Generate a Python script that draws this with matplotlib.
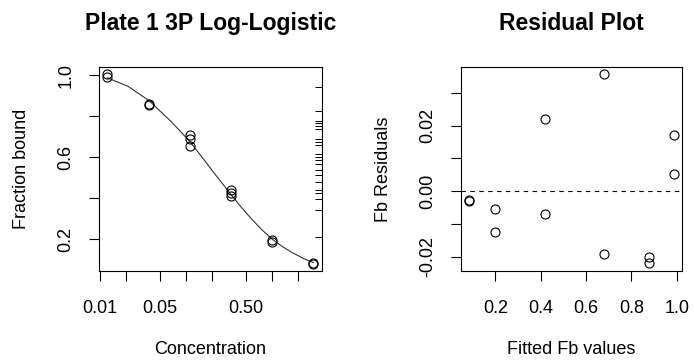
import numpy as np
import matplotlib.pyplot as plt

plt.rcParams['font.family'] = ['Liberation Sans', 'DejaVu Sans']

# Observed data (left panel)
conc = [0.0123, 0.0123, 0.037, 0.037, 0.111, 0.111, 0.111,
        0.333, 0.333, 0.333, 1.0, 1.0, 3.0, 3.0]
frac_bound = [1.004, 0.992, 0.858, 0.856, 0.711, 0.690, 0.657,
              0.442, 0.426, 0.410, 0.194, 0.188, 0.083, 0.081]

# Fitted curve
curve_x = [0.0123, 0.0214, 0.037, 0.0684, 0.111, 0.16, 0.2, 0.25,
           0.333, 0.44, 0.556, 0.75, 1.0, 1.3, 1.7, 2.3, 3.0]
curve_y = [0.988, 0.946, 0.878, 0.772, 0.677, 0.591, 0.537, 0.485,
           0.418, 0.355, 0.306, 0.248, 0.200, 0.165, 0.135, 0.106, 0.086]

# Rug on the right side of the left panel
rug_vals = [0.944, 0.828, 0.776, 0.765, 0.752, 0.736, 0.690, 0.674, 0.658,
            0.614, 0.601, 0.586, 0.565, 0.536, 0.512, 0.479, 0.440, 0.427,
            0.395, 0.343, 0.213]

x_ticks = [0.01, 0.02, 0.05, 0.1, 0.2, 0.5, 1, 2]
x_ticklabels = ['0.01', '', '0.05', '', '', '0.50', '', '']
y_ticks = [0.2, 0.4, 0.6, 0.8, 1.0]
y_ticklabels = ['0.2', '', '0.6', '', '1.0']

# Residual panel
fitted = [0.085, 0.085, 0.2, 0.2, 0.418, 0.418, 0.677, 0.677,
          0.878, 0.878, 0.988, 0.988]
resid = [-0.0026, -0.0031, -0.0056, -0.0124, 0.0221, -0.0070, 0.0357, -0.0192,
         -0.0202, -0.0221, 0.0172, 0.0053]
r_xticks = [0.2, 0.4, 0.6, 0.8, 1.0]
r_yticks = [-0.02, -0.01, 0.0, 0.01, 0.02, 0.03]
r_yticklabels = ['-0.02', '', '0.00', '', '0.02', '']

fig = plt.figure(figsize=(6.94, 3.6), dpi=100)
ax1 = fig.add_axes([0.1427, 0.2472, 0.3209, 0.5675])
ax2 = fig.add_axes([0.6643, 0.2472, 0.3189, 0.5675])

fs = 13
for ax in (ax1, ax2):
    for s in ax.spines.values():
        s.set_linewidth(0.8)
    ax.tick_params(length=7, width=0.8, labelsize=fs, pad=14)
    ax.tick_params(axis='y', pad=10.5)

# Left panel
ax1.set_xscale('log')
ax1.plot(curve_x, curve_y, color='#333333', lw=0.8)
ax1.plot(conc, frac_bound, 'o', mfc='none', mec='black', ms=6.5, mew=0.8)
ax1.hlines(rug_vals, 0.97, 1.0, transform=ax1.get_yaxis_transform(),
           color='black', lw=0.7)
ax1.set_xlim(0.00986, 3.74)
ax1.set_ylim(0.045, 1.042)
ax1.set_xticks(x_ticks)
ax1.set_xticklabels(x_ticklabels)
ax1.xaxis.set_minor_locator(plt.NullLocator())
ax1.set_yticks(y_ticks)
ax1.set_yticklabels(y_ticklabels, rotation=90, va='center')
ax1.set_xlabel('Concentration', fontsize=fs)
ax1.set_ylabel('Fraction bound', fontsize=fs)
ax1.xaxis.set_label_coords(0.5, -0.385)
ax1.xaxis.label.set_va('center')
ax1.yaxis.set_label_coords(-0.346, 0.5)
ax1.yaxis.label.set_va('center')
ax1.text(0.5, 1.21, 'Plate 1 3P Log-Logistic', transform=ax1.transAxes,
         ha='center', va='center', fontsize=16.5, fontweight='bold')

# Right panel
ax2.plot(fitted, resid, 'o', mfc='none', mec='black', ms=6.5, mew=0.8)
ax2.axhline(0, color='black', lw=0.8, ls=(0, (4, 4)))
ax2.set_xlim(0.049, 1.024)
ax2.set_ylim(-0.0244, 0.038)
ax2.set_xticks(r_xticks)
ax2.set_xticklabels([f'{v:.1f}' for v in r_xticks])
ax2.set_yticks(r_yticks)
ax2.set_yticklabels(r_yticklabels, rotation=90, va='center')
ax2.set_xlabel('Fitted Fb values', fontsize=fs)
ax2.set_ylabel('Fb Residuals', fontsize=fs)
ax2.xaxis.set_label_coords(0.5, -0.385)
ax2.xaxis.label.set_va('center')
ax2.yaxis.set_label_coords(-0.352, 0.5)
ax2.yaxis.label.set_va('center')
ax2.text(0.5, 1.21, 'Residual Plot', transform=ax2.transAxes,
         ha='center', va='center', fontsize=16.5, fontweight='bold')

fig.savefig('out.png', dpi=100)
